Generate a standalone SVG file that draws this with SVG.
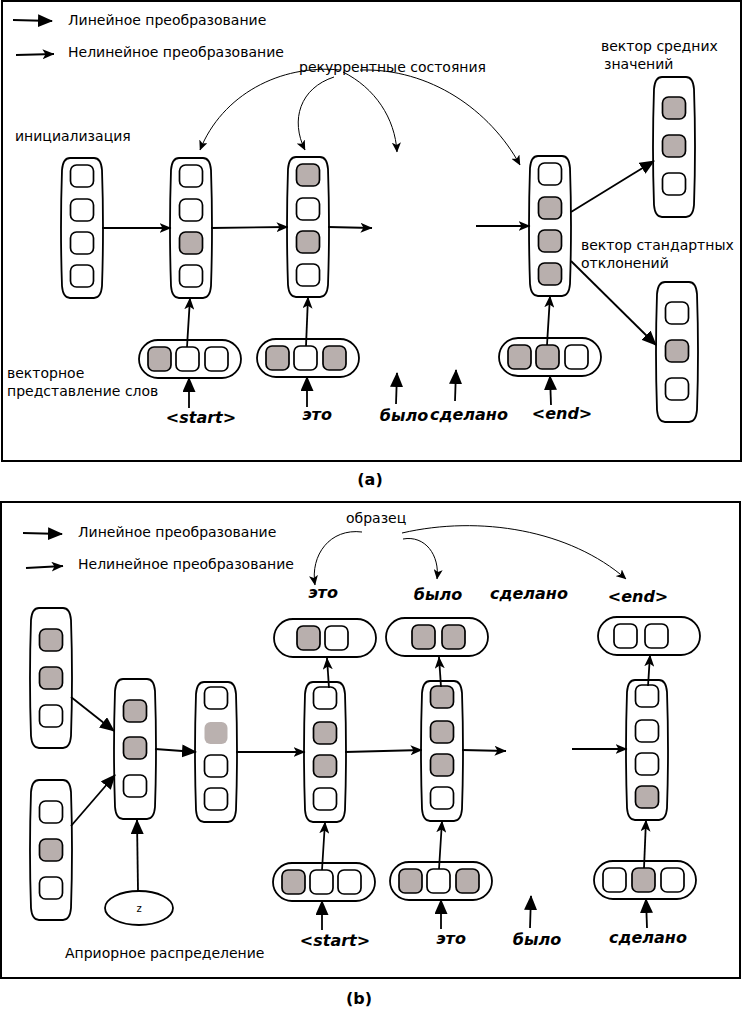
<svg xmlns="http://www.w3.org/2000/svg" xmlns:xlink="http://www.w3.org/1999/xlink" width="743" height="1011" viewBox="0 0 743 1011">
<style>
.frame{fill:none;stroke:#000;stroke-width:2}
.bar{fill:#fff;stroke:#000;stroke-width:1.8}
.cw{fill:#fff;stroke:#000;stroke-width:1.7}
.cg{fill:#b8afad;stroke:#000;stroke-width:1.7}
.cl{fill:#bab1af;stroke:none}
.t{font-family:"DejaVu Sans",sans-serif;font-size:14px;fill:#000}
.w{font-family:"DejaVu Sans",sans-serif;font-size:16px;font-weight:bold;font-style:oblique;fill:#000;text-anchor:middle}
.cap{font-family:"DejaVu Sans",sans-serif;font-size:16px;font-weight:bold;fill:#000;text-anchor:middle}
.lin{fill:none;stroke:#000;stroke-width:1.8;marker-end:url(#lin)}
.nl{fill:none;stroke:#000;stroke-width:1.8;marker-end:url(#nl)}
.cv{fill:none;stroke:#000;stroke-width:1;marker-end:url(#nls)}
</style>
<defs>
<marker id="lin" viewBox="0 0 15 13" refX="14" refY="6.5" markerWidth="15" markerHeight="13" markerUnits="userSpaceOnUse" orient="auto"><path d="M0,0 L15,6.5 L0,13 Z" fill="#000"/></marker>
<marker id="nl" viewBox="0 0 12 10" refX="11.5" refY="5" markerWidth="12" markerHeight="10" markerUnits="userSpaceOnUse" orient="auto"><path d="M0,0 L12,5 L0,10 L3,5 Z" fill="#000"/></marker>
<marker id="nls" viewBox="0 0 10 9" refX="9.5" refY="4.5" markerWidth="10" markerHeight="9" markerUnits="userSpaceOnUse" orient="auto"><path d="M0,0 L10,4.5 L0,9 L2.5,4.5 Z" fill="#000"/></marker>
<path id="vbar" class="bar" d="M8,0 H32 Q39,0 40,12 Q42,70 40,128 Q39,140 32,140 H8 Q1,140 0,128 Q-2,70 0,12 Q1,0 8,0 Z"/>
<rect id="pill" class="bar" width="102" height="38" rx="19" ry="19"/>
</defs>
<rect class="frame" x="2" y="1" width="739" height="460"/>
<rect class="frame" x="1" y="502" width="739" height="476"/>

<g id="legend-a">
<path class="lin" d="M13,20 L52,21"/>
<path class="nl" d="M16,55 L54,54"/>
<text class="t" x="68" y="25">Линейное преобразование</text>
<text class="t" x="68" y="57">Нелинейное преобразование</text>
</g>

<g id="labels-a">
<text class="t" x="299" y="72">рекуррентные состояния</text>
<text class="t" x="15" y="141">инициализация</text>
<text class="t" x="601" y="51">вектор средних</text>
<text class="t" x="604" y="69">значений</text>
<text class="t" x="581" y="250">вектор стандартных</text>
<text class="t" x="581" y="268">отклонений</text>
<text class="t" x="7" y="378">векторное</text>
<text class="t" x="7" y="396">представление слов</text>
<text class="w" x="201" y="423">&lt;start&gt;</text>
<text class="w" x="317" y="420">это</text>
<text class="w" x="404" y="421">было</text>
<text class="w" x="469" y="420">сделано</text>
<text class="w" x="562" y="419">&lt;end&gt;</text>
<text class="cap" x="370" y="485">(a)</text>
</g>

<g id="a-init"><use xlink:href="#vbar" x="62" y="158"/>
<rect class="cw" x="70.5" y="165" width="23" height="22" rx="6"/><rect class="cw" x="70.5" y="199" width="23" height="22" rx="6"/><rect class="cw" x="70.5" y="232" width="23" height="22" rx="6"/><rect class="cw" x="70.5" y="265" width="23" height="22" rx="6"/></g>
<g id="a-h1"><use xlink:href="#vbar" x="171" y="158"/>
<rect class="cw" x="179.5" y="165" width="23" height="22" rx="6"/><rect class="cw" x="179.5" y="199" width="23" height="22" rx="6"/><rect class="cg" x="179.5" y="232" width="23" height="22" rx="6"/><rect class="cw" x="179.5" y="265" width="23" height="22" rx="6"/></g>
<g id="a-h2"><use xlink:href="#vbar" x="288" y="157"/>
<rect class="cg" x="296.5" y="164" width="23" height="22" rx="6"/><rect class="cw" x="296.5" y="198" width="23" height="22" rx="6"/><rect class="cg" x="296.5" y="231" width="23" height="22" rx="6"/><rect class="cw" x="296.5" y="264" width="23" height="22" rx="6"/></g>
<g id="a-h3"><use xlink:href="#vbar" x="530" y="156"/>
<rect class="cw" x="538.5" y="163" width="23" height="22" rx="6"/><rect class="cg" x="538.5" y="197" width="23" height="22" rx="6"/><rect class="cg" x="538.5" y="230" width="23" height="22" rx="6"/><rect class="cg" x="538.5" y="263" width="23" height="22" rx="6"/></g>
<g id="a-mean"><use xlink:href="#vbar" x="654" y="77"/>
<rect class="cg" x="662.5" y="97" width="23" height="22" rx="6"/><rect class="cg" x="662.5" y="135" width="23" height="22" rx="6"/><rect class="cw" x="662.5" y="173" width="23" height="22" rx="6"/></g>
<g id="a-std"><use xlink:href="#vbar" x="657" y="282"/>
<rect class="cw" x="665.5" y="302" width="23" height="22" rx="6"/><rect class="cg" x="665.5" y="340" width="23" height="22" rx="6"/><rect class="cw" x="665.5" y="378" width="23" height="22" rx="6"/></g>
<g id="a-e1"><use xlink:href="#pill" x="139" y="340"/>
<rect class="cg" x="148" y="347" width="23" height="24" rx="6"/><rect class="cw" x="176" y="347" width="23" height="24" rx="6"/><rect class="cw" x="205" y="347" width="23" height="24" rx="6"/></g>
<g id="a-e2"><use xlink:href="#pill" x="257" y="339"/>
<rect class="cg" x="266" y="346" width="23" height="24" rx="6"/><rect class="cw" x="294" y="346" width="23" height="24" rx="6"/><rect class="cg" x="323" y="346" width="23" height="24" rx="6"/></g>
<g id="a-e3"><use xlink:href="#pill" x="499" y="338"/>
<rect class="cg" x="508" y="345" width="23" height="24" rx="6"/><rect class="cg" x="536" y="345" width="23" height="24" rx="6"/><rect class="cw" x="565" y="345" width="23" height="24" rx="6"/></g>

<g id="connectors-a">
<path class="nl" d="M102,228 L171,228"/>
<path class="nl" d="M211,228 L288,227"/>
<path class="nl" d="M328,227 L372,228"/>
<path class="nl" d="M476,226 L530,226"/>
<path class="nl" d="M187,347 L190,298"/>
<path class="nl" d="M306,346 L308,297"/>
<path class="nl" d="M547,345 L550,296"/>
<path class="lin" d="M189,408 L189,378"/>
<path class="lin" d="M307,407 L307,377"/>
<path class="lin" d="M396,404 L397,373"/>
<path class="lin" d="M455,401 L456,370"/>
<path class="lin" d="M551,405 L550,376"/>
<path class="lin" d="M571,212 L654,161"/>
<path class="lin" d="M571,261 L656,345"/>
<path class="cv" d="M340,70 C280,64 222,95 200,150"/>
<path class="cv" d="M334,77 C300,88 290,120 305,150"/>
<path class="cv" d="M343,72 C375,88 395,118 397,152"/>
<path class="cv" d="M360,70 C430,68 490,110 520,165"/>
</g>

<g id="legend-b">
<path class="lin" d="M23,533 L62,534"/>
<path class="nl" d="M26,568 L63,566"/>
<text class="t" x="78" y="537">Линейное преобразование</text>
<text class="t" x="78" y="569">Нелинейное преобразование</text>
</g>

<g id="labels-b">
<text class="t" x="346" y="523">образец</text>
<text class="w" x="323" y="598">это</text>
<text class="w" x="438" y="600">было</text>
<text class="w" x="529" y="599">сделано</text>
<text class="w" x="638" y="602">&lt;end&gt;</text>
<text class="t" x="65" y="958">Априорное распределение</text>
<text class="w" x="335" y="946">&lt;start&gt;</text>
<text class="w" x="451" y="944">это</text>
<text class="w" x="537" y="945">было</text>
<text class="w" x="648" y="943">сделано</text>
<text class="cap" x="359" y="1004">(b)</text>
</g>

<g id="b-mean"><use xlink:href="#vbar" x="31" y="608"/>
<rect class="cg" x="39.5" y="629" width="23" height="22" rx="6"/><rect class="cg" x="39.5" y="667" width="23" height="22" rx="6"/><rect class="cw" x="39.5" y="705" width="23" height="22" rx="6"/></g>
<g id="b-std"><use xlink:href="#vbar" x="31" y="780"/>
<rect class="cw" x="39.5" y="801" width="23" height="22" rx="6"/><rect class="cg" x="39.5" y="839" width="23" height="22" rx="6"/><rect class="cw" x="39.5" y="877" width="23" height="22" rx="6"/></g>
<g id="b-z"><ellipse class="bar" cx="139" cy="908" rx="34" ry="17"/>
<text class="t" x="139" y="912" style="font-size:10px" text-anchor="middle">z</text></g>
<g id="b-comb"><use xlink:href="#vbar" x="115" y="679"/>
<rect class="cg" x="123.5" y="700" width="23" height="22" rx="6"/><rect class="cg" x="123.5" y="737" width="23" height="22" rx="6"/><rect class="cw" x="123.5" y="775" width="23" height="22" rx="6"/></g>
<g id="b-pre"><use xlink:href="#vbar" x="196" y="682"/>
<rect class="cw" x="204.5" y="687" width="23" height="22" rx="6"/><rect class="cl" x="204.5" y="722" width="23" height="22" rx="6"/><rect class="cw" x="204.5" y="755" width="23" height="22" rx="6"/><rect class="cw" x="204.5" y="788" width="23" height="22" rx="6"/></g>
<g id="b-h1"><use xlink:href="#vbar" x="305" y="682"/>
<rect class="cw" x="313.5" y="687" width="23" height="22" rx="6"/><rect class="cg" x="313.5" y="722" width="23" height="22" rx="6"/><rect class="cg" x="313.5" y="755" width="23" height="22" rx="6"/><rect class="cw" x="313.5" y="788" width="23" height="22" rx="6"/></g>
<g id="b-h2"><use xlink:href="#vbar" x="422" y="681"/>
<rect class="cg" x="430.5" y="686" width="23" height="22" rx="6"/><rect class="cg" x="430.5" y="721" width="23" height="22" rx="6"/><rect class="cg" x="430.5" y="754" width="23" height="22" rx="6"/><rect class="cw" x="430.5" y="787" width="23" height="22" rx="6"/></g>
<g id="b-h3"><use xlink:href="#vbar" x="627" y="680"/>
<rect class="cw" x="635.5" y="685" width="23" height="22" rx="6"/><rect class="cw" x="635.5" y="720" width="23" height="22" rx="6"/><rect class="cw" x="635.5" y="753" width="23" height="22" rx="6"/><rect class="cg" x="635.5" y="786" width="23" height="22" rx="6"/></g>
<g id="b-o1"><use xlink:href="#pill" x="274" y="619"/>
<rect class="cg" x="297" y="626" width="23" height="24" rx="6"/><rect class="cw" x="325" y="626" width="23" height="24" rx="6"/></g>
<g id="b-o2"><use xlink:href="#pill" x="386" y="618"/>
<rect class="cg" x="412" y="625" width="23" height="24" rx="6"/><rect class="cg" x="442" y="625" width="23" height="24" rx="6"/></g>
<g id="b-o3"><use xlink:href="#pill" x="598" y="617"/>
<rect class="cw" x="614" y="624" width="23" height="24" rx="6"/><rect class="cw" x="645" y="624" width="23" height="24" rx="6"/></g>
<g id="b-e1"><use xlink:href="#pill" x="273" y="863"/>
<rect class="cg" x="282" y="870" width="23" height="24" rx="6"/><rect class="cw" x="310" y="870" width="23" height="24" rx="6"/><rect class="cw" x="338" y="870" width="23" height="24" rx="6"/></g>
<g id="b-e2"><use xlink:href="#pill" x="390" y="862"/>
<rect class="cg" x="399" y="869" width="23" height="24" rx="6"/><rect class="cw" x="427" y="869" width="23" height="24" rx="6"/><rect class="cg" x="456" y="869" width="23" height="24" rx="6"/></g>
<g id="b-e3"><use xlink:href="#pill" x="594" y="861"/>
<rect class="cw" x="603" y="868" width="23" height="24" rx="6"/><rect class="cg" x="632" y="868" width="23" height="24" rx="6"/><rect class="cw" x="661" y="868" width="23" height="24" rx="6"/></g>

<g id="connectors-b">
<path class="lin" d="M71,697 L114,731"/>
<path class="lin" d="M71,826 L115,775"/>
<path class="lin" d="M138,891 L137,820"/>
<path class="lin" d="M155,749 L196,752"/>
<path class="nl" d="M236,752 L305,752"/>
<path class="nl" d="M345,752 L422,750"/>
<path class="nl" d="M462,750 L506,751"/>
<path class="nl" d="M572,749 L627,749"/>
<path class="nl" d="M322,870 L325,822"/>
<path class="nl" d="M439,869 L442,821"/>
<path class="nl" d="M644,868 L646,820"/>
<path class="nl" d="M329,688 L327,658"/>
<path class="nl" d="M441,687 L439,657"/>
<path class="nl" d="M648,686 L650,655"/>
<path class="lin" d="M322,930 L322,901"/>
<path class="lin" d="M441,929 L441,900"/>
<path class="lin" d="M530,928 L531,896"/>
<path class="lin" d="M647,928 L646,899"/>
<path class="cv" d="M362,532 C330,528 310,555 315,585"/>
<path class="cv" d="M403,539 C425,535 440,555 437,579"/>
<path class="cv" d="M402,533 C480,515 570,530 626,579"/>
</g>
</svg>
